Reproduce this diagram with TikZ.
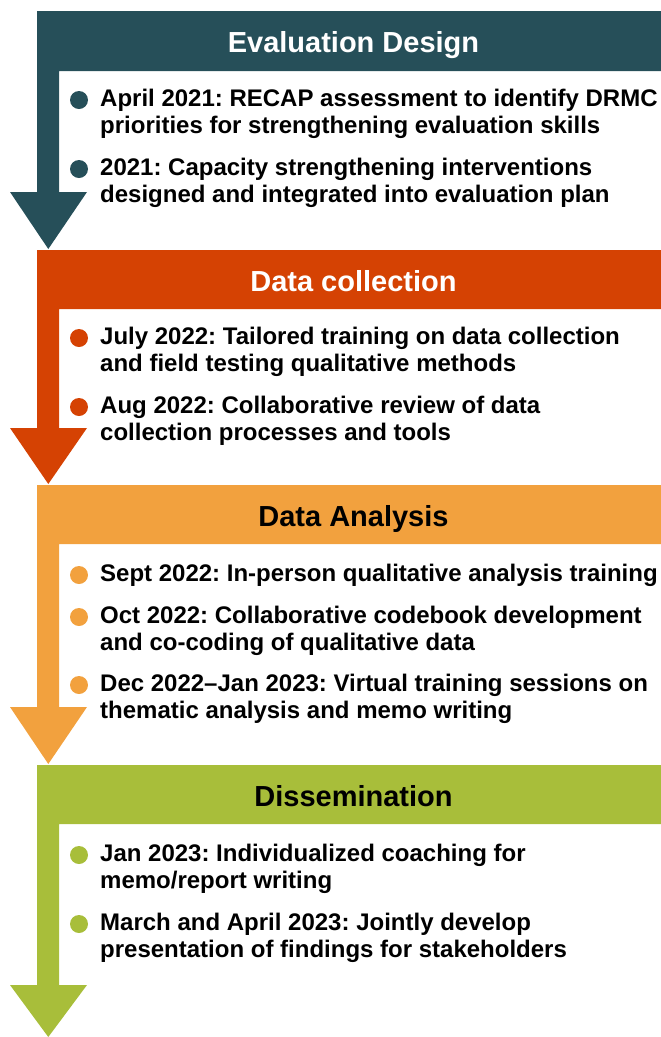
\documentclass[tikz,border=0pt]{standalone}
\usepackage{fontspec}
\setmainfont{Liberation Sans}
\frenchspacing
\definecolor{designteal}{RGB}{38,79,89}
\definecolor{collectred}{RGB}{213,66,3}
\definecolor{analysisorange}{RGB}{242,161,62}
\definecolor{dissemgreen}{RGB}{168,190,58}
\begin{document}
\begin{tikzpicture}[x=1pt,y=-1pt,
  title/.style={anchor=base, inner sep=0pt, font=\fontsize{29}{34}\selectfont\bfseries},
  % two-line items are placed by the baseline of their last line
  item/.style={anchor=base west, inner sep=0pt, align=left, font=\fontsize{24}{27}\selectfont\bfseries},
  dot/.style={circle, inner sep=0pt, minimum size=18pt}]
\useasboundingbox (0,0) rectangle (661,1037);

% phase bands: header bar, stem and arrowhead in one outline
\fill[designteal] (37,11) -- (661,11) -- (661,71) -- (59,71) -- (59,192) -- (87,192) -- (48.3,249) -- (10,192) -- (37,192) -- cycle;
\fill[collectred] (37,250) -- (661,250) -- (661,309) -- (59,309) -- (59,428) -- (87,428) -- (48.3,484) -- (10,428) -- (37,428) -- cycle;
\fill[analysisorange] (37,485) -- (661,485) -- (661,544) -- (59,544) -- (59,707) -- (87,707) -- (48.3,764) -- (10,707) -- (37,707) -- cycle;
\fill[dissemgreen] (37,765) -- (661,765) -- (661,824) -- (59,824) -- (59,985) -- (87,985) -- (48.3,1037) -- (10,985) -- (37,985) -- cycle;

% phase titles
\node[title, text=white] (t1) at (353.5,52) {Evaluation Design};
\node[title, text=white] (t2) at (353.5,291) {Data collection};
\node[title, text=black] (t3) at (353.5,526) {Data Analysis};
\node[title, text=black] (t4) at (353.5,806) {Dissemination};

% Evaluation Design
\node[dot, fill=designteal] (d11) at (79,100) {};
\node[item] (i11) at (100,133) {April 2021: RECAP assessment to identify DRMC\\priorities for strengthening evaluation skills};
\node[dot, fill=designteal] (d12) at (79,169) {};
\node[item] (i12) at (100,202) {2021: Capacity strengthening interventions\\designed and integrated into evaluation plan};

% Data collection
\node[dot, fill=collectred] (d21) at (79,338) {};
\node[item] (i21) at (100,371) {July 2022: Tailored training on data collection\\and field testing qualitative methods};
\node[dot, fill=collectred] (d22) at (79,407) {};
\node[item] (i22) at (100,440) {Aug 2022: Collaborative review of data\\collection processes and tools};

% Data Analysis
\node[dot, fill=analysisorange] (d31) at (79,575) {};
\node[item] (i31) at (100,581) {Sept 2022: In-person qualitative analysis training};
\node[dot, fill=analysisorange] (d32) at (79,617) {};
\node[item] (i32) at (100,650) {Oct 2022: Collaborative codebook development\\and co-coding of qualitative data};
\node[dot, fill=analysisorange] (d33) at (79,685) {};
\node[item] (i33) at (100,718) {Dec 2022--Jan 2023: Virtual training sessions on\\thematic analysis and memo writing};

% Dissemination
\node[dot, fill=dissemgreen] (d41) at (79,855) {};
\node[item] (i41) at (100,888) {Jan 2023: Individualized coaching for\\memo/report writing};
\node[dot, fill=dissemgreen] (d42) at (79,924) {};
\node[item] (i42) at (100,957) {March and April 2023: Jointly develop\\presentation of findings for stakeholders};
\end{tikzpicture}
\end{document}
